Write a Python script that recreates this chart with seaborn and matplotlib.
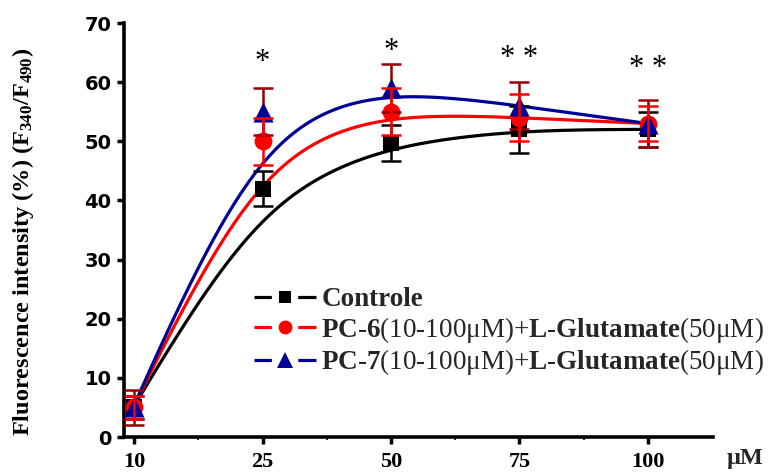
import numpy as np
import matplotlib
matplotlib.use('Agg')
import matplotlib.pyplot as plt
import seaborn as sns
from matplotlib.lines import Line2D

# ---------------- data ----------------
conc_labels = ['10', '25', '50', '75', '100']
ctrl_mean = [5, 42, 49.7, 52, 52]
ctrl_err = [2, 3, 3, 4, 3]
pc6_mean = [5, 50, 55, 54, 53]
pc6_err = [2, 4, 4, 4, 3]
pc7_mean = [5, 55, 59, 56, 53]
pc7_err = [3, 4, 4, 4, 4]
sig_marks = ['', '*', '*', '* *', '* *']
sig_y = [0, 62.0, 63.9, 62.7, 61.0]
y_ticks = [0, 10, 20, 30, 40, 50, 60, 70]

# ---------------- style ----------------
sns.set_theme(style='ticks')
plt.rcParams['font.family'] = ['Liberation Serif', 'DejaVu Sans']
plt.rcParams['mathtext.fontset'] = 'custom'
plt.rcParams['mathtext.rm'] = 'Liberation Serif'
plt.rcParams['mathtext.bf'] = 'Liberation Serif:bold'
plt.rcParams['mathtext.it'] = 'Liberation Serif:italic'
plt.rcParams['lines.scale_dashes'] = False

C_CTRL = '#000000'
C_PC6 = '#FF0000'
C_PC7 = '#000099'
C_PC7_ERR = '#990000'

fig = plt.figure(figsize=(7.7, 4.73), dpi=100)
ax = fig.add_axes([124 / 770, 36 / 473, 589 / 770, 414 / 473])

pos = np.arange(len(conc_labels), dtype=float)
grid = np.linspace(0, 4, 300)


def local_linear_smooth(y, bw=0.644):
    """Kernel-weighted local linear regression (LOWESS-like trend line)."""
    y = np.asarray(y, float)
    out = []
    for g in grid:
        w = np.exp(-0.5 * ((pos - g) / bw) ** 2)
        X = np.column_stack([np.ones_like(pos), pos - g])
        XtW = X.T * w
        beta = np.linalg.solve(XtW @ X, XtW @ y)
        out.append(beta[0])
    return np.array(out)


# trend lines
for mean, c in [(ctrl_mean, C_CTRL), (pc6_mean, C_PC6), (pc7_mean, C_PC7)]:
    sns.lineplot(x=grid, y=local_linear_smooth(mean), color=c, linewidth=2.3,
                 ax=ax, zorder=2, legend=False)


def draw_err(mean, err, ec, z):
    ax.errorbar(pos, mean, yerr=err, fmt='none', ecolor=ec, elinewidth=1.8,
                capsize=7.5, capthick=1.8, zorder=z)


def draw_marker(mean, c, m, s, z):
    sns.scatterplot(x=pos, y=mean, marker=m, s=s, color=c, edgecolor=c,
                    linewidth=0, ax=ax, zorder=z, legend=False)


draw_err(ctrl_mean, ctrl_err, C_CTRL, 3.0)
draw_marker(ctrl_mean, C_CTRL, 's', 130, 3.1)
draw_marker(pc6_mean, C_PC6, 'o', 165, 3.2)
draw_err(pc7_mean, pc7_err, C_PC7_ERR, 3.3)
draw_marker(pc7_mean, C_PC7, '^', 210, 3.4)
draw_err(pc6_mean, pc6_err, C_PC6, 3.5)

# significance marks
for p, txt, yy in zip(pos, sig_marks, sig_y):
    if txt:
        ax.text(p, yy, txt, ha='center', va='baseline', fontsize=22,
                family='Liberation Serif', color='black')

# axes
ax.set_xlim(-0.078, 4.506)
ax.set_ylim(0, 70)
ax.set_xticks(pos)
ax.set_xticklabels(conc_labels, fontsize=16, fontweight='bold',
                   family='Liberation Serif')
ax.set_xticks(pos[:-1] + 0.5, minor=True)
ax.set_yticks(y_ticks)
ax.set_yticklabels([str(v) for v in y_ticks], fontsize=14, fontweight='bold',
                   family='DejaVu Sans')
ax.tick_params(axis='x', which='major', length=5, width=2.5, pad=6,
               color='black', labelcolor='black')
ax.tick_params(axis='x', which='minor', length=2.5, width=1.2, color='black')
ax.tick_params(axis='y', which='major', length=5, width=2.5, pad=4,
               color='black', labelcolor='black')
for side in ['top', 'right']:
    ax.spines[side].set_visible(False)
for side in ['left', 'bottom']:
    ax.spines[side].set_linewidth(2.6)
    ax.spines[side].set_color('black')
ax.set_facecolor('white')
ax.grid(False)

ax.set_ylabel(r'Fluorescence intensity (%) ($\mathbf{F}_{\mathbf{340}}$/$\mathbf{F}_{\mathbf{490}}$)',
              fontsize=17.5, fontweight='bold', family='Liberation Serif',
              color='black')
ax.yaxis.set_label_coords(-0.149, 0.47)

fig.text(727 / 770, 9 / 473, 'μM', fontsize=17.5, fontweight='bold',
         family='Liberation Serif', ha='left', va='baseline')

# legend
dash = (0, (12.5, 19, 14, 60))
handles = [
    Line2D([0], [0], color=C_CTRL, lw=2.3, ls=dash, marker='s', markersize=9,
           markeredgewidth=0),
    Line2D([0], [0], color=C_PC6, lw=2.3, ls=dash, marker='o', markersize=10,
           markeredgewidth=0),
    Line2D([0], [0], color=C_PC7, lw=2.3, ls=dash, marker='^', markersize=12,
           markeredgewidth=0),
]
labels = [
    'Controle',
    r'$\mathbf{PC}$-$\mathbf{6}$(10-100μM)+$\mathbf{L}$-$\mathbf{Glutamate}$(50μM)',
    r'$\mathbf{PC}$-$\mathbf{7}$(10-100μM)+$\mathbf{L}$-$\mathbf{Glutamate}$(50μM)',
]
leg = ax.legend(handles, labels, loc='upper left',
                bbox_to_anchor=(254 / 770, 1 - 287 / 473),
                bbox_transform=fig.transFigure, frameon=False, fontsize=19.5,
                handlelength=2.29, handletextpad=0.2, labelspacing=0.1,
                borderpad=0, borderaxespad=0, numpoints=1)
leg.get_texts()[0].set_fontweight('bold')

fig.savefig('out.png', dpi=100, facecolor='white')
